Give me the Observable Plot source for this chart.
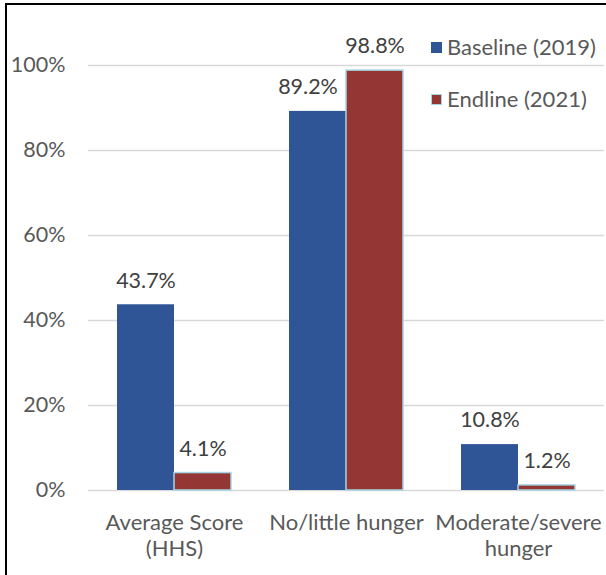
<!DOCTYPE html>
<html>
<head>
<meta charset="utf-8">
<script src="https://cdn.jsdelivr.net/npm/d3@7"></script>
<script src="https://cdn.jsdelivr.net/npm/@observablehq/plot@0.6"></script>
<style>
  html, body { margin: 0; padding: 0; background: #fff; }
  #wrap { position: relative; width: 606px; height: 575px; overflow: hidden; font-family: Lato, "Open Sans", sans-serif; }
  #frame { position: absolute; left: 5px; top: 3px; width: 800px; height: 800px; border-left: 2px solid #000; border-top: 2px solid #000; pointer-events: none; }
  .legend { position: absolute; left: 431px; height: 26px; font-size: 22px; line-height: 26px; color: #595959; display: flex; align-items: center; white-space: nowrap; }
  .sw { width: 11px; height: 11px; margin-right: 5px; box-sizing: border-box; }
</style>
</head>
<body>
<div id="wrap">
  <div id="chart"></div>
  <div id="legend"></div>
  <div id="frame"></div>
</div>
<script>
const categories = ["Average Score (HHS)", "No/little hunger", "Moderate/severe hunger"];
const categoryLabels = ["Average Score\n(HHS)", "No/little hunger", "Moderate/severe\nhunger"];
const series = ["Baseline (2019)", "Endline (2021)"];
const baseline = [43.7, 89.2, 10.8];
const endline = [4.1, 98.8, 1.2];
const yTicks = [0, 20, 40, 60, 80, 100];
const colors = ["#2F5597", "#943634"];

const data = [];
categories.forEach((c, i) => {
  data.push({category: c, series: series[0], value: baseline[i]});
  data.push({category: c, series: series[1], value: endline[i]});
});
// the label that Excel nudged left to clear the taller neighbour
const nudged = d => d.category === categories[1] && d.series === series[0];

const labelOpts = {
  fx: "category", x: "series", y: "value",
  text: d => d.value.toFixed(1) + "%",
  dy: -24, fontSize: 21.5, fill: "#404040"
};

const chart = Plot.plot({
  width: 606,
  height: 575,
  marginTop: 65,
  marginBottom: 85,
  marginLeft: 87,
  marginRight: 2,
  style: {fontFamily: "Lato, 'Open Sans', sans-serif", background: "#fff"},
  fx: {domain: categories, padding: 0},
  x: {domain: series, paddingInner: 0, paddingOuter: 0.485, axis: null},
  y: {domain: [0, 100], axis: null},
  color: {domain: series, range: colors},
  marks: [
    Plot.ruleY(yTicks, {stroke: "#d9d9d9", strokeWidth: 1.3, strokeOpacity: 1}),
    Plot.barY(data, {
      fx: "category", x: "series", y: "value", fill: "series",
      stroke: d => d.series === series[1] ? "#a5d6e4" : "none",
      strokeWidth: 1.5
    }),
    Plot.text(data.filter(d => !nudged(d)), labelOpts),
    Plot.text(data.filter(nudged), {...labelOpts, dx: -10}),
    Plot.axisY({
      ticks: yTicks, tickFormat: d => d + "%", tickSize: 0, tickPadding: 23,
      fontSize: 21.5, color: "#595959", label: null
    }),
    Plot.axisFx({
      anchor: "bottom", tickSize: 0, tickPadding: 20, fontSize: 22, color: "#595959",
      lineHeight: 1.22, label: null,
      tickFormat: d => categoryLabels[categories.indexOf(d)]
    })
  ]
});
document.getElementById("chart").appendChild(chart);

const legend = document.getElementById("legend");
const legendTops = [34, 86];
series.forEach((s, i) => {
  const row = document.createElement("div");
  row.className = "legend";
  row.style.top = legendTops[i] + "px";
  const sw = document.createElement("div");
  sw.className = "sw";
  sw.style.background = colors[i];
  if (i === 1) sw.style.border = "1.5px solid #a5d6e4";
  row.appendChild(sw);
  const t = document.createElement("span");
  t.textContent = s;
  row.appendChild(t);
  legend.appendChild(row);
});
</script>
</body>
</html>
